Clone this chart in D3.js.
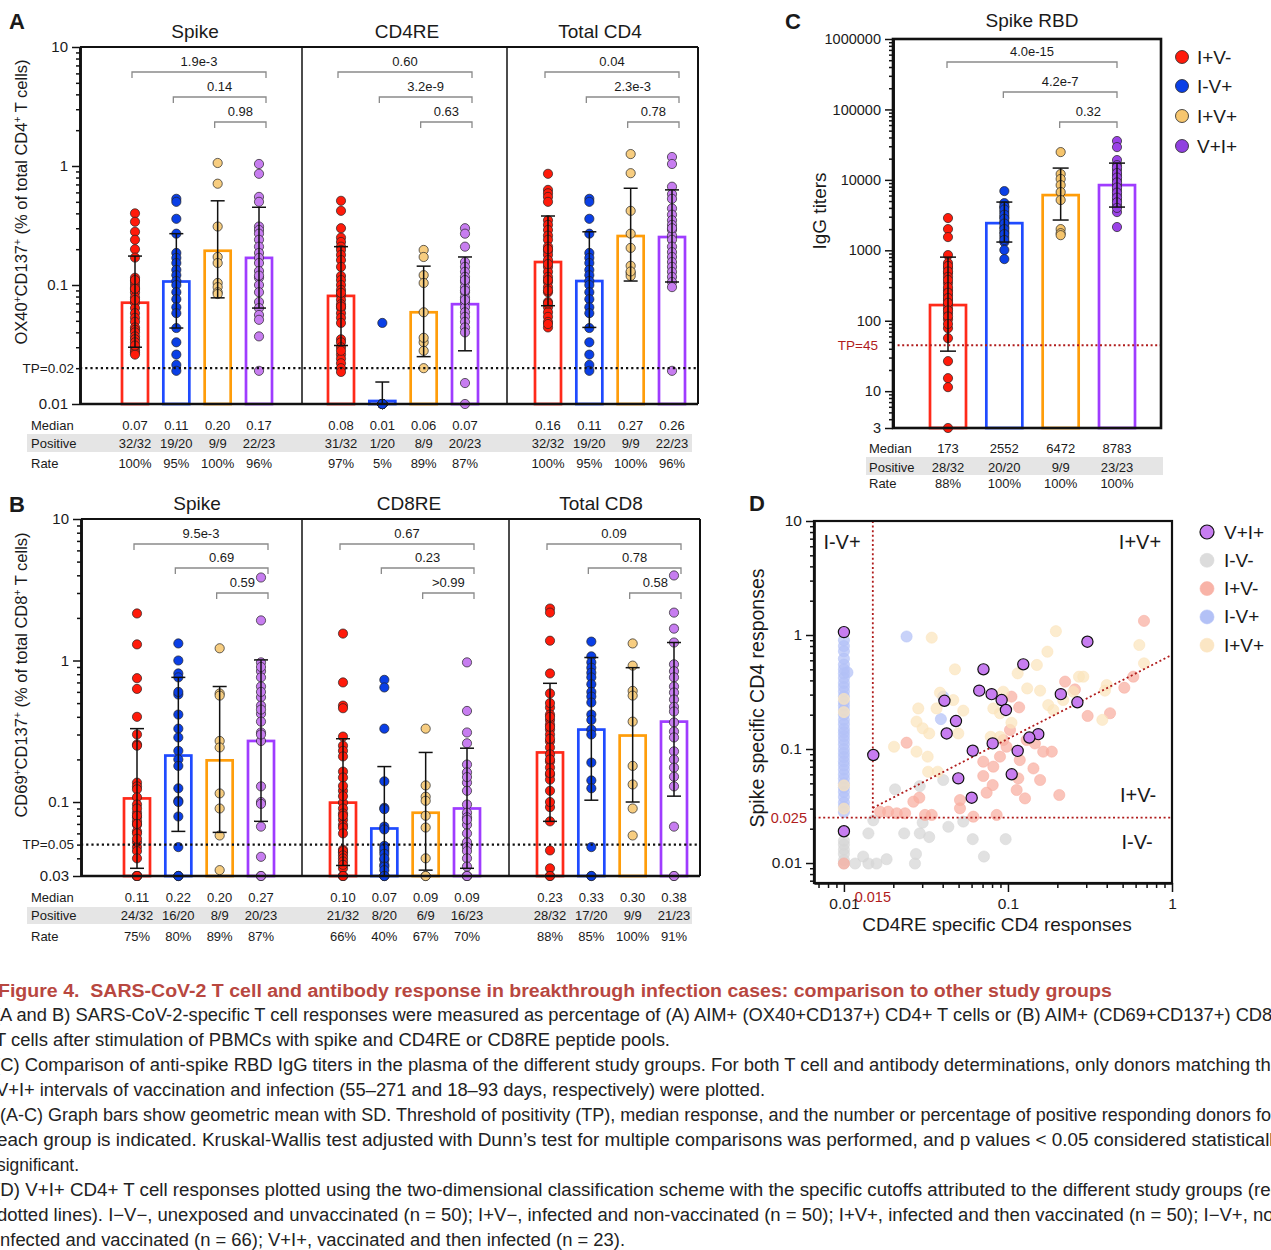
<!DOCTYPE html>
<html><head><meta charset="utf-8">
<script src="https://cdn.jsdelivr.net/npm/d3@7"></script>
<style>
body{margin:0;background:#fff}
svg{display:block}
text{font-family:"Liberation Sans",Arial,Helvetica,sans-serif;fill:#1a1a1a}
</style>
</head><body>
<svg id="fig" width="1271" height="1250"></svg>
<script>
// ---------------- DATA ----------------
const groups = ["I+V-","I-V+","I+V+","V+I+"];

// Panel A : OX40+CD137+ CD4 (subpanels Spike, CD4RE, Total CD4)
const aTitles = ["Spike","CD4RE","Total CD4"];
const aSpikeIpVm = [0.40,0.34,0.28,0.24,0.20,0.17,0.115,0.108,0.102,0.096,0.091,0.086,0.079,0.071,0.064,0.058,0.053,0.049,0.044,0.042,0.040,0.037,0.035,0.033,0.030,0.028,0.027,0.026,0.11,0.093,0.075,0.031];
const aSpikeImVp = [0.53,0.50,0.36,0.27,0.186,0.169,0.153,0.134,0.121,0.108,0.100,0.087,0.076,0.065,0.058,0.0435,0.033,0.026,0.0213,0.019];
const aSpikeIpVp = [1.06,0.71,0.31,0.172,0.153,0.104,0.096,0.087,0.084];
const aSpikeVpIp = [1.04,0.86,0.55,0.50,0.31,0.29,0.27,0.24,0.21,0.186,0.169,0.153,0.131,0.115,0.100,0.087,0.072,0.064,0.056,0.051,0.037,0.019,0.12];
const aCD4REIpVm = [0.51,0.42,0.30,0.25,0.23,0.21,0.197,0.179,0.162,0.142,0.119,0.110,0.100,0.091,0.082,0.075,0.069,0.064,0.058,0.053,0.048,0.035,0.033,0.030,0.026,0.024,0.022,0.020,0.0186,0.086,0.066,0.028];
const aCD4REImVp = [0.048,0.01,0.01,0.01,0.01,0.01,0.01,0.01,0.01,0.01,0.01,0.01,0.01,0.01,0.01,0.01,0.01,0.01,0.01,0.01];
const aCD4REIpVp = [0.197,0.172,0.121,0.104,0.059,0.033,0.028,0.020,0.036];
const aCD4REVpIp = [0.30,0.27,0.21,0.156,0.142,0.129,0.117,0.106,0.096,0.087,0.079,0.072,0.065,0.059,0.054,0.049,0.044,0.040,0.015,0.01,0.11,0.075,0.09];
const aTotIpVm = [0.86,0.63,0.59,0.55,0.50,0.35,0.32,0.29,0.26,0.24,0.21,0.193,0.179,0.162,0.142,0.129,0.117,0.106,0.096,0.087,0.072,0.065,0.059,0.054,0.049,0.044,0.15,0.20,0.11,0.09,0.07,0.047];
const aTotImVp = [0.53,0.50,0.36,0.27,0.186,0.169,0.153,0.134,0.121,0.108,0.100,0.087,0.076,0.065,0.058,0.0435,0.033,0.026,0.0213,0.019];
const aTotIpVp = [1.26,0.87,0.42,0.27,0.205,0.145,0.126,0.119,0.13];
const aTotVpIp = [1.19,1.04,0.67,0.58,0.53,0.44,0.39,0.35,0.32,0.29,0.26,0.24,0.21,0.189,0.172,0.156,0.142,0.129,0.117,0.106,0.096,0.019,0.30];
const aGeo = [[0.071,0.107,0.194,0.169],[0.081,0.0106,0.059,0.069],[0.156,0.108,0.258,0.253]];
const aHi  = [[0.175,0.27,0.51,0.45],[0.21,0.0153,0.144,0.172],[0.38,0.28,0.65,0.63]];
const aLo  = [[0.030,0.0435,0.078,0.064],[0.031,0.0073,0.025,0.028],[0.067,0.044,0.108,0.106]];
const aMedian   = [["0.07","0.11","0.20","0.17"],["0.08","0.01","0.06","0.07"],["0.16","0.11","0.27","0.26"]];
const aPositive = [["32/32","19/20","9/9","22/23"],["31/32","1/20","8/9","20/23"],["32/32","19/20","9/9","22/23"]];
const aRate     = [["100%","95%","100%","96%"],["97%","5%","89%","87%"],["100%","95%","100%","96%"]];
const aPvals    = [["1.9e-3","0.14","0.98"],["0.60","3.2e-9","0.63"],["0.04","2.3e-3","0.78"]];
const aYTicks = [0.01,0.1,1,10];
const aYTickLabels = ["0.01","0.1","1","10"];
const aTP = 0.02;

// Panel B : CD69+CD137+ CD8
const bTitles = ["Spike","CD8RE","Total CD8"];
const bSpikeIpVm = [2.15,1.30,0.75,0.63,0.40,0.30,0.255,0.25,0.137,0.129,0.123,0.108,0.096,0.084,0.078,0.073,0.069,0.062,0.052,0.048,0.03,0.09,0.08,0.07,0.06,0.055,0.045,0.04,0.03,0.03,0.03,0.03];
const bSpikeImVp = [1.32,1.0,0.81,0.76,0.575,0.415,0.33,0.286,0.23,0.20,0.125,0.102,0.10,0.079,0.048,0.03,0.6,0.18,0.03,0.03];
const bSpikeIpVp = [1.22,0.585,0.565,0.27,0.243,0.115,0.09,0.058,0.033];
const bSpikeVpIp = [3.86,1.92,0.97,0.84,0.76,0.655,0.55,0.48,0.42,0.37,0.31,0.27,0.129,0.10,0.097,0.067,0.041,0.03,0.03,0.9,0.6,0.45,0.3];
const bCD8REIpVm = [1.55,0.70,0.48,0.46,0.29,0.25,0.23,0.21,0.164,0.149,0.12,0.099,0.09,0.083,0.075,0.069,0.066,0.046,0.044,0.034,0.03,0.13,0.11,0.08,0.06,0.045,0.042,0.04,0.038,0.036,0.03,0.03];
const bCD8REImVp = [0.73,0.645,0.33,0.14,0.091,0.089,0.067,0.064,0.049,0.045,0.039,0.036,0.03,0.047,0.043,0.04,0.035,0.033,0.03,0.03];
const bCD8REIpVp = [0.33,0.131,0.109,0.102,0.066,0.03,0.08,0.04,0.03];
const bCD8REVpIp = [0.97,0.44,0.31,0.26,0.184,0.162,0.137,0.096,0.084,0.078,0.069,0.052,0.03,0.15,0.12,0.075,0.06,0.048,0.045,0.04,0.035,0.03,0.03];
const bTotIpVm = [2.33,2.18,1.38,0.81,0.585,0.465,0.415,0.38,0.353,0.325,0.30,0.268,0.243,0.217,0.193,0.175,0.156,0.144,0.092,0.073,0.0455,0.034,0.03,0.5,0.4,0.34,0.28,0.2,0.16,0.12,0.1,0.03];
const bTotImVp = [1.36,1.07,0.97,0.89,0.82,0.76,0.68,0.60,0.556,0.505,0.415,0.38,0.325,0.19,0.142,0.125,0.3,0.048,0.03,0.03];
const bTotIpVp = [1.32,0.92,0.61,0.565,0.37,0.18,0.133,0.09,0.058];
const bTotVpIp = [3.99,2.18,1.68,1.34,0.94,0.84,0.76,0.655,0.594,0.53,0.47,0.436,0.365,0.315,0.286,0.228,0.20,0.175,0.151,0.129,0.067,0.03,0.03];
const bGeo = [[0.106,0.213,0.197,0.27],[0.099,0.065,0.084,0.09],[0.224,0.325,0.295,0.37]];
const bHi  = [[0.33,0.76,0.655,1.01],[0.28,0.178,0.224,0.24],[0.69,1.05,0.89,1.34]];
const bLo  = [[0.034,0.062,0.061,0.073],[0.0356,0.024,0.033,0.034],[0.073,0.103,0.10,0.11]];
const bMedian   = [["0.11","0.22","0.20","0.27"],["0.10","0.07","0.09","0.09"],["0.23","0.33","0.30","0.38"]];
const bPositive = [["24/32","16/20","8/9","20/23"],["21/32","8/20","6/9","16/23"],["28/32","17/20","9/9","21/23"]];
const bRate     = [["75%","80%","89%","87%"],["66%","40%","67%","70%"],["88%","85%","100%","91%"]];
const bPvals    = [["9.5e-3","0.69","0.59"],["0.67","0.23",">0.99"],["0.09","0.78","0.58"]];
const bYTicks = [0.03,0.1,1,10];
const bYTickLabels = ["0.03","0.1","1","10"];
const bTP = 0.05;

// Panel C : Spike RBD IgG titers
const cIpVm = [2870,2000,1540,855,658,558,474,342,272,231,196,172,151,128,105,78.5,56.6,26.7,15.3,11.4,3,600,500,420,380,300,250,210,180,140,115,90];
const cImVp = [6930,4680,4110,3490,2960,2520,2140,1820,1540,1310,1010,750,4200,3800,3200,2800,2400,2000,1700,1400];
const cIpVp = [24800,12100,10300,8430,6710,5170,2000,1750,1640];
const cVpIp = [35600,29200,19100,16200,13800,11700,9930,8430,7160,6080,5170,4390,3490,2140,15000,12500,10800,9200,7800,6600,5600,4800,4000];
const cGeo = [167,2430,6080,8430];
const cHi  = [800,4840,14700,17300];
const cLo  = [37,1310,2690,4110];
const cMedian   = ["173","2552","6472","8783"];
const cPositive = ["28/32","20/20","9/9","23/23"];
const cRate     = ["88%","100%","100%","100%"];
const cPvals    = ["4.0e-15","4.2e-7","0.32"];
const cYTicks = [3,10,100,1000,10000,100000,1000000];
const cYTickLabels = ["3","10","100","1000","10000","100000","1000000"];
const cTP = 45;

// Panel D : two-dimensional classification
const dVIx = [0.01,0.01,0.0151,0.305,0.124,0.0709,0.041,0.0668,0.0795,0.0915,0.0972,0.0482,0.0423,0.21,0.265,0.153,0.135,0.0807,0.061,0.1146,0.0498,0.1054,0.0601];
const dVIy = [1.06,0.019,0.0886,0.873,0.553,0.50,0.265,0.325,0.303,0.269,0.22,0.176,0.137,0.303,0.257,0.135,0.126,0.112,0.0966,0.0963,0.0553,0.060,0.0374];
const dImVmX = [0.0117,0.0131,0.0141,0.0158,0.0182,0.0271,0.0275,0.0141,0.0233,0.029,0.0331,0.0433,0.061,0.0968,0.0714,0.0302,0.0205,0.029,0.0403,0.0534,0.0151,0.01,0.01,0.01,0.01,0.01,0.01];
const dImVmY = [0.0099,0.0114,0.0099,0.0099,0.0108,0.0099,0.012,0.0182,0.0182,0.0182,0.0169,0.0208,0.0162,0.0162,0.0114,0.0226,0.0443,0.0473,0.0535,0.0231,0.0237,0.0157,0.0131,0.0106,0.012,0.0145,0.0099];
const dIpVmX = [0.675,0.223,0.256,0.512,0.581,0.306,0.419,0.105,0.117,0.0241,0.0707,0.0894,0.098,0.118,0.146,0.164,0.185,0.143,0.157,0.1156,0.113,0.127,0.0807,0.0741,0.0707,0.2055,0.051,0.051,0.0288,0.0265,0.0166,0.0186,0.021,0.0236,0.0312,0.0343,0.0615,0.0853,0.0814,0.1029,0.130,0.0936,0.01];
const dIpVmY = [1.33,0.39,0.333,0.345,0.431,0.195,0.206,0.288,0.232,0.1136,0.0774,0.0857,0.1047,0.080,0.112,0.0948,0.0948,0.0676,0.0535,0.0553,0.0437,0.0369,0.0483,0.0414,0.058,0.0395,0.0302,0.0357,0.0374,0.0345,0.0282,0.0282,0.0273,0.0273,0.0264,0.0264,0.0255,0.0264,0.070,0.147,0.12,0.12,0.0099];
const dImVpX = [0.01,0.01,0.01,0.01,0.01,0.01,0.01,0.01,0.01,0.01,0.01,0.01,0.01,0.01,0.01,0.01,0.01,0.01,0.01,0.01,0.01,0.01,0.01,0.01,0.01,0.01,0.01,0.01,0.01,0.01,0.01,0.01,0.01,0.01,0.01,0.01,0.01,0.01,0.0105,0.0241,0.039,0.0403];
const dImVpY = [0.9,0.8,0.72,0.62,0.55,0.5,0.46,0.42,0.38,0.35,0.32,0.29,0.26,0.24,0.22,0.2,0.18,0.165,0.15,0.14,0.13,0.12,0.11,0.1,0.092,0.085,0.078,0.072,0.066,0.06,0.055,0.05,0.046,0.042,0.038,0.034,0.031,0.028,0.47,0.97,0.183,0.288];
const dIpVpX = [0.196,0.632,0.174,0.675,0.271,0.288,0.40,0.376,0.150,0.1146,0.131,0.157,0.176,0.189,0.0475,0.0343,0.0385,0.0464,0.0534,0.0367,0.0284,0.0277,0.0302,0.0331,0.0498,0.0202,0.0277,0.0324,0.0326,0.0373,0.105,0.0936,0.0814,0.0894,0.0785,0.0894,0.217,0.25,0.39,0.01,0.01,0.01,0.01];
const dIpVpY = [1.08,0.817,0.714,0.564,0.431,0.431,0.364,0.18,0.546,0.461,0.34,0.325,0.243,0.22,0.50,0.948,0.312,0.269,0.217,0.227,0.227,0.174,0.152,0.137,0.137,0.1047,0.0948,0.0857,0.0632,0.0632,0.170,0.318,0.227,0.206,0.128,0.128,0.269,0.318,0.325,0.275,0.211,0.048,0.030];
const dCutX = 0.015;
const dCutY = 0.025;
const dDiag = [[0.015,0.0304],[1,0.67]];
const dXTicks = [0.01,0.1,1];
const dXTickLabels = ["0.01","0.1","1"];
const dYTicks = [0.01,0.1,1,10];
const dYTickLabels = ["0.01","0.1","1","10"];
const dLegend = ["V+I+","I-V-","I+V-","I-V+","I+V+"];
const dQuadrants = ["I-V+","I+V+","I+V-","I-V-"];

// Caption
const captionTitle = "Figure 4.  SARS-CoV-2 T cell and antibody response in breakthrough infection cases: comparison to other study groups";
const captionLines = [
"(A and B) SARS-CoV-2-specific T cell responses were measured as percentage of (A) AIM+ (OX40+CD137+) CD4+ T cells or (B) AIM+ (CD69+CD137+) CD8+",
"T cells after stimulation of PBMCs with spike and CD4RE or CD8RE peptide pools.",
"(C) Comparison of anti-spike RBD IgG titers in the plasma of the different study groups. For both T cell and antibody determinations, only donors matching the",
"V+I+ intervals of vaccination and infection (55\u2013271 and 18\u201393 days, respectively) were plotted.",
"(A-C) Graph bars show geometric mean with SD. Threshold of positivity (TP), median response, and the number or percentage of positive responding donors for",
"each group is indicated. Kruskal-Wallis test adjusted with Dunn\u2019s test for multiple comparisons was performed, and p values < 0.05 considered statistically",
"significant.",
"(D) V+I+ CD4+ T cell responses plotted using the two-dimensional classification scheme with the specific cutoffs attributed to the different study groups (red",
"dotted lines). I\u2212V\u2212, unexposed and unvaccinated (n = 50); I+V\u2212, infected and non-vaccinated (n = 50); I+V+, infected and then vaccinated (n = 50); I\u2212V+, non-",
"infected and vaccinated (n = 66); V+I+, vaccinated and then infected (n = 23)."
];
// horizontal extent [start, end] of each caption line (layout)
const captionSpan = [[-6,1283],[-5,670],[-6,1281],[-4,765],[0,1277],[-3,1283],[-3,79],[-6,1281],[-3,1290],[-4,625]];

// ---------------- STYLE ----------------
const barColors = ["#ff2a1a","#1f4bff","#ff9d0a","#9f3cff"];
const dotColorsT = ["#ff1a0a","#0a3fe6","#f7cd80","#c77df0"];
const dotColorsC = ["#ff1a0a","#0a3fe6","#f5c46c","#9a42e6"];
const darkRed = "#b01c1c";

const svg = d3.select("#fig");
svg.append("rect").attr("width",1271).attr("height",1250).attr("fill","#fff");

function minorTicks(lo, hi, majors) {
  const out = [];
  for (let e = Math.floor(Math.log10(lo)) - 1; e <= Math.ceil(Math.log10(hi)); e++) {
    for (let m = 1; m < 10; m++) {
      const v = +(m * Math.pow(10, e)).toPrecision(6);
      if (v >= lo * 0.999 && v <= hi * 1.001 && !majors.some(t => Math.abs(t - v) / v < 1e-6)) out.push(v);
    }
  }
  return out;
}

function styleAxis(sel, fontSize, domainW) {
  sel.attr("font-family", null).attr("font-size", null);
  sel.selectAll("path.domain").attr("stroke", "#111").attr("stroke-width", domainW);
  sel.selectAll(".tick line").attr("stroke", "#111").attr("stroke-width", 1.5);
  sel.selectAll(".tick text").attr("font-size", fontSize).attr("fill", "#1a1a1a");
}

function leftLogAxis(g, y, x0, ticks, labels, fontSize, domainW) {
  const d = y.domain();
  const mins = minorTicks(d[0], d[1], ticks);
  const a1 = g.append("g").attr("transform", `translate(${x0},0)`)
    .call(d3.axisLeft(y).tickValues(mins).tickSize(4).tickSizeOuter(0).tickFormat(""));
  styleAxis(a1, fontSize, domainW);
  const a2 = g.append("g").attr("transform", `translate(${x0},0)`)
    .call(d3.axisLeft(y).tickValues(ticks).tickSize(8).tickSizeOuter(0).tickPadding(4).tickFormat((v, i) => labels[i]));
  styleAxis(a2, fontSize, domainW);
}

function rotLabel(g, parts, x, y, size) {
  const t = g.append("text").attr("transform", `translate(${x},${y}) rotate(-90)`)
    .attr("text-anchor", "middle").attr("font-size", size);
  let raised = false;
  parts.forEach(p => {
    const ts = t.append("tspan").text(p.t);
    if (p.sup) {
      ts.attr("dy", -size * 0.38).attr("font-size", size * 0.62);
      raised = true;
    } else if (raised) {
      ts.attr("dy", size * 0.38);
      raised = false;
    }
  });
}

function bracket(g, x1, x2, yl, label) {
  g.append("path").attr("d", `M${x1},${yl + 6}V${yl}H${x2}V${yl + 6}`)
    .attr("fill", "none").attr("stroke", "#8a8a8a").attr("stroke-width", 1.3);
  g.append("text").attr("x", (x1 + x2) / 2).attr("y", yl - 6.5).attr("text-anchor", "middle")
    .attr("font-size", 13).text(label);
}

function errorBar(g, cx, yScale, hi, lo, dmin, bottom, half) {
  const yh = yScale(hi);
  const loIn = lo >= dmin;
  const yl = loIn ? yScale(lo) : bottom;
  g.append("line").attr("x1", cx).attr("x2", cx).attr("y1", yh).attr("y2", yl).attr("stroke", "#111").attr("stroke-width", 1.5);
  g.append("line").attr("x1", cx - half).attr("x2", cx + half).attr("y1", yh).attr("y2", yh).attr("stroke", "#111").attr("stroke-width", 1.5);
  if (loIn) g.append("line").attr("x1", cx - half).attr("x2", cx + half).attr("y1", yl).attr("y2", yl).attr("stroke", "#111").attr("stroke-width", 1.5);
}

function dots(g, vals, cx, yScale, color, r) {
  g.selectAll(null).data(vals).join("circle")
    .attr("cx", cx).attr("cy", d => yScale(d)).attr("r", r)
    .attr("fill", color).attr("stroke", "#222").attr("stroke-width", 0.7);
}

// ---------------- T-cell panels (A, B) ----------------
function drawTPanel(L, D) {
  const g = svg.append("g");
  const y = d3.scaleLog().domain(L.yDomain).range([L.bottom, L.top]).clamp(true);
  g.append("rect").attr("x", L.bandX[0]).attr("y", L.band[0]).attr("width", L.bandX[1] - L.bandX[0])
    .attr("height", L.band[1] - L.band[0]).attr("fill", "#e5e5e5");
  ["Median", "Positive", "Rate"].forEach((r, j) => {
    g.append("text").attr("x", L.rowLabelX).attr("y", L.tableY[j]).attr("font-size", 13).text(r);
  });
  D.titles.forEach((t, k) => {
    const x = d3.scalePoint().domain(groups).range(L.barRanges[k]);
    g.append("text").attr("x", L.titleX[k]).attr("y", L.titleY).attr("text-anchor", "middle")
      .attr("font-size", 19).text(t);
    groups.forEach((gr, i) => {
      const cx = x(gr);
      g.append("rect").attr("x", cx - L.barWidth / 2).attr("y", y(D.geo[k][i]))
        .attr("width", L.barWidth).attr("height", L.bottom - y(D.geo[k][i]))
        .attr("fill", "#fff").attr("stroke", barColors[i]).attr("stroke-width", 2.7);
    });
    groups.forEach((gr, i) => dots(g, D.dots[k][i], x(gr), y, dotColorsT[i], 4.6));
    groups.forEach((gr, i) => errorBar(g, x(gr), y, D.hi[k][i], D.lo[k][i], L.yDomain[0], L.bottom, 7));
    [0, 1, 2].forEach(i => bracket(g, x(groups[i]) + L.bracketOff[0], x(groups[3]) + L.bracketOff[1], L.bracketY[i], D.pvals[k][i]));
    groups.forEach((gr, i) => {
      [D.median, D.positive, D.rate].forEach((arr, j) => {
        g.append("text").attr("x", x(gr)).attr("y", L.tableY[j]).attr("text-anchor", "middle")
          .attr("font-size", 13).text(arr[k][i]);
      });
    });
  });
  g.append("line").attr("x1", L.left).attr("x2", L.right).attr("y1", y(D.tp)).attr("y2", y(D.tp))
    .attr("stroke", "#111").attr("stroke-width", 2.2).attr("stroke-dasharray", "2.2,3");
  g.append("text").attr("x", L.tpLabelX).attr("y", y(D.tp) + 4.5).attr("text-anchor", "end")
    .attr("font-size", 13.5).text("TP=" + D.tp);
  g.append("line").attr("x1", L.left).attr("x2", L.right).attr("y1", L.top).attr("y2", L.top).attr("stroke", "#111").attr("stroke-width", 2);
  g.append("line").attr("x1", L.right).attr("x2", L.right).attr("y1", L.top).attr("y2", L.bottom).attr("stroke", "#111").attr("stroke-width", 2);
  L.seps.forEach(s => g.append("line").attr("x1", s).attr("x2", s).attr("y1", L.top).attr("y2", L.bottom).attr("stroke", "#111").attr("stroke-width", 1.5));
  g.append("line").attr("x1", L.left).attr("x2", L.right).attr("y1", L.bottom).attr("y2", L.bottom).attr("stroke", "#111").attr("stroke-width", 2.6);
  leftLogAxis(g, y, L.left, D.yTicks, D.yTickLabels, 15, 2.6);
  rotLabel(g, D.ylabel, L.ylabelPos[0], L.ylabelPos[1], 16.5);
  g.append("text").attr("x", L.letterPos[0]).attr("y", L.letterPos[1]).attr("font-size", 22).attr("font-weight", "bold").text(L.letter);
}

drawTPanel(
  { left: 80, right: 698, top: 47, bottom: 404, seps: [302, 507], yDomain: [0.01, 10],
    barRanges: [[135, 259], [341, 465], [548, 672]], titleX: [195, 407, 600], titleY: 38, barWidth: 26,
    bracketY: [72, 97, 122], bracketOff: [-3, 7], tableY: [429.5, 447.5, 467.5], band: [434, 452], bandX: [27, 692],
    rowLabelX: 31, tpLabelX: 74, letter: "A", letterPos: [9, 29], ylabelPos: [27, 202] },
  { titles: aTitles,
    dots: [[aSpikeIpVm, aSpikeImVp, aSpikeIpVp, aSpikeVpIp], [aCD4REIpVm, aCD4REImVp, aCD4REIpVp, aCD4REVpIp], [aTotIpVm, aTotImVp, aTotIpVp, aTotVpIp]],
    geo: aGeo, hi: aHi, lo: aLo, median: aMedian, positive: aPositive, rate: aRate, pvals: aPvals,
    tp: aTP, yTicks: aYTicks, yTickLabels: aYTickLabels,
    ylabel: [{ t: "OX40" }, { t: "+", sup: 1 }, { t: "CD137" }, { t: "+", sup: 1 }, { t: " (% of total CD4" }, { t: "+", sup: 1 }, { t: " T cells)" }] }
);

drawTPanel(
  { left: 81, right: 700, top: 519, bottom: 876, seps: [302, 509], yDomain: [0.03, 10],
    barRanges: [[137, 261], [343, 467], [550, 674]], titleX: [197, 409, 601], titleY: 510, barWidth: 26,
    bracketY: [544, 568, 593], bracketOff: [-3, 7], tableY: [901.5, 919.5, 940.5], band: [907, 924], bandX: [27, 692],
    rowLabelX: 31, tpLabelX: 74, letter: "B", letterPos: [9, 512], ylabelPos: [27, 675] },
  { titles: bTitles,
    dots: [[bSpikeIpVm, bSpikeImVp, bSpikeIpVp, bSpikeVpIp], [bCD8REIpVm, bCD8REImVp, bCD8REIpVp, bCD8REVpIp], [bTotIpVm, bTotImVp, bTotIpVp, bTotVpIp]],
    geo: bGeo, hi: bHi, lo: bLo, median: bMedian, positive: bPositive, rate: bRate, pvals: bPvals,
    tp: bTP, yTicks: bYTicks, yTickLabels: bYTickLabels,
    ylabel: [{ t: "CD69" }, { t: "+", sup: 1 }, { t: "CD137" }, { t: "+", sup: 1 }, { t: " (% of total CD8" }, { t: "+", sup: 1 }, { t: " T cells)" }] }
);

// ---------------- Panel C ----------------
(function () {
  const L = { left: 893, right: 1161, top: 39, bottom: 428 };
  const g = svg.append("g");
  const y = d3.scaleLog().domain([3, 1000000]).range([L.bottom, L.top]).clamp(true);
  const x = d3.scalePoint().domain(groups).range([948, 1117]);
  const tY = [452.5, 471.5, 487.5];
  g.append("rect").attr("x", 866).attr("y", 457).attr("width", 297).attr("height", 18).attr("fill", "#e5e5e5");
  ["Median", "Positive", "Rate"].forEach((r, j) => g.append("text").attr("x", 869).attr("y", tY[j]).attr("font-size", 13).text(r));
  const cDots = [cIpVm, cImVp, cIpVp, cVpIp];
  groups.forEach((gr, i) => {
    g.append("rect").attr("x", x(gr) - 18).attr("y", y(cGeo[i])).attr("width", 36).attr("height", L.bottom - y(cGeo[i]))
      .attr("fill", "#fff").attr("stroke", barColors[i]).attr("stroke-width", 2.7);
  });
  groups.forEach((gr, i) => dots(g, cDots[i], x(gr), y, dotColorsC[i], 4.6));
  groups.forEach((gr, i) => errorBar(g, x(gr), y, cHi[i], cLo[i], 3, L.bottom, 8));
  [0, 1, 2].forEach(i => bracket(g, x(groups[i]) - 1, x(groups[3]), [62, 92, 122][i], cPvals[i]));
  groups.forEach((gr, i) => {
    [cMedian, cPositive, cRate].forEach((arr, j) => g.append("text").attr("x", x(gr)).attr("y", tY[j])
      .attr("text-anchor", "middle").attr("font-size", 13).text(arr[i]));
  });
  g.append("line").attr("x1", L.left).attr("x2", L.right).attr("y1", y(cTP)).attr("y2", y(cTP))
    .attr("stroke", darkRed).attr("stroke-width", 2).attr("stroke-dasharray", "2,2.6");
  g.append("text").attr("x", 878).attr("y", y(cTP) + 4.5).attr("text-anchor", "end").attr("font-size", 13.5)
    .style("fill", darkRed).text("TP=" + cTP);
  g.append("rect").attr("x", L.left).attr("y", L.top).attr("width", L.right - L.left).attr("height", L.bottom - L.top)
    .attr("fill", "none").attr("stroke", "#111").attr("stroke-width", 2.6);
  leftLogAxis(g, y, L.left, cYTicks, cYTickLabels, 14.5, 2.6);
  g.append("text").attr("x", 1032).attr("y", 27).attr("text-anchor", "middle").attr("font-size", 19).text("Spike RBD");
  rotLabel(g, [{ t: "IgG titers" }], 826, 211, 19);
  g.append("text").attr("x", 785).attr("y", 29).attr("font-size", 22).attr("font-weight", "bold").text("C");
  const legFill = ["#ff1a0a", "#0a3fe6", "#f7c66e", "#9040e0"];
  groups.forEach((gr, i) => {
    const ly = [57, 86, 116, 146][i];
    g.append("circle").attr("cx", 1182).attr("cy", ly).attr("r", 6.5).attr("fill", legFill[i])
      .attr("stroke", "#222").attr("stroke-width", 0.8);
    g.append("text").attr("x", 1197).attr("y", ly + 6.5).attr("font-size", 19).text(gr);
  });
})();

// ---------------- Panel D ----------------
(function () {
  const L = { left: 814, right: 1172, top: 521, bottom: 883 };
  const g = svg.append("g");
  const x = d3.scaleLog().domain([0.00657, 1]).range([L.left, L.right]);
  const y = d3.scaleLog().domain([0.00668, 10]).range([L.bottom, L.top]);
  const bg = [
    { xs: dImVmX, ys: dImVmY, c: "#d6d6d6" },
    { xs: dImVpX, ys: dImVpY, c: "#b3c1f6" },
    { xs: dIpVmX, ys: dIpVmY, c: "#f8ada0" },
    { xs: dIpVpX, ys: dIpVpY, c: "#fbe4bc" }
  ];
  bg.forEach(s => {
    g.selectAll(null).data(s.xs.map((v, i) => [v, s.ys[i]])).join("circle")
      .attr("cx", d => x(d[0])).attr("cy", d => y(d[1])).attr("r", 5.6)
      .attr("fill", s.c).attr("fill-opacity", 0.72).attr("stroke", s.c).attr("stroke-opacity", 0.9).attr("stroke-width", 0.6);
  });
  const dash = "2,2.6";
  g.append("line").attr("x1", x(dCutX)).attr("x2", x(dCutX)).attr("y1", L.top).attr("y2", y(dCutY))
    .attr("stroke", darkRed).attr("stroke-width", 1.8).attr("stroke-dasharray", dash);
  g.append("line").attr("x1", L.left).attr("x2", L.right).attr("y1", y(dCutY)).attr("y2", y(dCutY))
    .attr("stroke", darkRed).attr("stroke-width", 1.8).attr("stroke-dasharray", dash);
  g.append("line").attr("x1", x(dDiag[0][0])).attr("y1", y(dDiag[0][1])).attr("x2", x(dDiag[1][0])).attr("y2", y(dDiag[1][1]))
    .attr("stroke", darkRed).attr("stroke-width", 1.8).attr("stroke-dasharray", dash);
  g.selectAll(null).data(dVIx.map((v, i) => [v, dVIy[i]])).join("circle")
    .attr("cx", d => x(d[0])).attr("cy", d => y(d[1])).attr("r", 5.6)
    .attr("fill", "#c77df0").attr("stroke", "#111").attr("stroke-width", 1.2);
  g.append("rect").attr("x", L.left).attr("y", L.top).attr("width", L.right - L.left).attr("height", L.bottom - L.top)
    .attr("fill", "none").attr("stroke", "#111").attr("stroke-width", 2.2);
  leftLogAxis(g, y, L.left, dYTicks, dYTickLabels, 15.5, 2.2);
  const xd = x.domain();
  const ax1 = g.append("g").attr("transform", `translate(0,${L.bottom})`)
    .call(d3.axisBottom(x).tickValues(minorTicks(xd[0], xd[1], dXTicks)).tickSize(5).tickSizeOuter(0).tickFormat(""));
  styleAxis(ax1, 15.5, 2.2);
  const ax2 = g.append("g").attr("transform", `translate(0,${L.bottom})`)
    .call(d3.axisBottom(x).tickValues(dXTicks).tickSize(9).tickSizeOuter(0).tickPadding(6).tickFormat((v, i) => dXTickLabels[i]));
  styleAxis(ax2, 15.5, 2.2);
  g.append("text").attr("x", x(dCutX)).attr("y", 902).attr("text-anchor", "middle").attr("font-size", 14.5).style("fill", darkRed).text(String(dCutX));
  g.append("text").attr("x", 807).attr("y", y(dCutY) + 5).attr("text-anchor", "end").attr("font-size", 14.5).style("fill", darkRed).text(String(dCutY));
  const qPos = [[842, 549], [1140, 549], [1138, 802], [1137, 849]];
  dQuadrants.forEach((q, i) => g.append("text").attr("x", qPos[i][0]).attr("y", qPos[i][1]).attr("text-anchor", "middle").attr("font-size", 20).text(q));
  g.append("text").attr("x", 997).attr("y", 931).attr("text-anchor", "middle").attr("font-size", 19).text("CD4RE specific CD4 responses");
  rotLabel(g, [{ t: "Spike specific CD4 responses" }], 764, 698, 19.5);
  g.append("text").attr("x", 749).attr("y", 511).attr("font-size", 22).attr("font-weight", "bold").text("D");
  const legCols = ["#c77df0", "#dcdcdc", "#f8b3a7", "#b3c1f6", "#fbe6c4"];
  dLegend.forEach((t, i) => {
    const ly = 532 + i * 28.3;
    g.append("circle").attr("cx", 1207).attr("cy", ly).attr("r", 7)
      .attr("fill", legCols[i]).attr("stroke", i === 0 ? "#111" : legCols[i]).attr("stroke-width", i === 0 ? 1.2 : 0.6);
    g.append("text").attr("x", 1224).attr("y", ly + 6.5).attr("font-size", 19).text(t);
  });
})();

// ---------------- Caption ----------------
(function () {
  const g = svg.append("g");
  const tt = g.append("text").attr("x", 0).attr("y", 0).attr("font-size", 18.5).attr("font-weight", "bold")
    .style("fill", "#b8473f").style("white-space", "pre").text(captionTitle);
  const tw = tt.node().getComputedTextLength();
  tt.attr("transform", `translate(-2,997) scale(${(1113 + 2) / tw},1)`);
  captionLines.forEach((l, i) => {
    const span = captionSpan[i];
    g.append("text").attr("x", span[0]).attr("y", 1021 + i * 25).attr("font-size", 17.5)
      .attr("textLength", span[1] - span[0]).attr("lengthAdjust", "spacingAndGlyphs")
      .style("fill", "#222").text(l);
  });
})();
</script>
</body></html>
